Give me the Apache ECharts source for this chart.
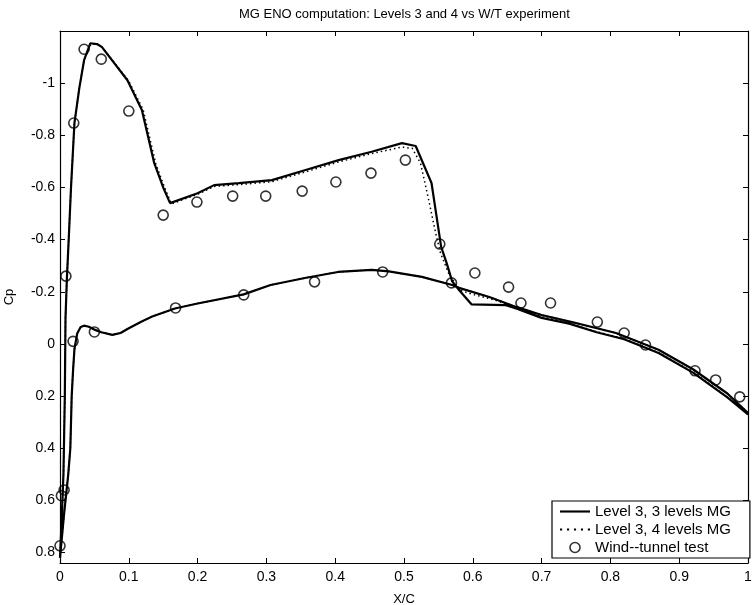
<!DOCTYPE html>
<html>
<head>
<meta charset="utf-8">
<script src="https://cdn.jsdelivr.net/npm/echarts@6/dist/echarts.min.js"></script>
<style>
html,body{margin:0;padding:0;background:#fff;}
#chart{width:752px;height:605px;}
</style>
</head>
<body>
<div id="chart"></div>
<script>
// ---- Data ----
const titleText = 'MG ENO computation: Levels 3 and 4 vs W/T experiment';
const seriesNames = ['Level 3, 3 levels MG', 'Level 3, 4 levels MG', 'Wind--tunnel test'];
const xTicks = [0, 0.1, 0.2, 0.3, 0.4, 0.5, 0.6, 0.7, 0.8, 0.9, 1];
const yTicks = [-1, -0.8, -0.6, -0.4, -0.2, 0, 0.2, 0.4, 0.6, 0.8];

// Level 3, 3 levels MG: upper surface (TE -> LE), then lower surface (LE -> TE)
const mg3X = [1.0, 0.97, 0.92, 0.87, 0.82, 0.78, 0.74, 0.70, 0.663, 0.648, 0.598, 0.58, 0.570, 0.562, 0.554, 0.540, 0.517, 0.497,
  0.453, 0.405, 0.357, 0.308, 0.26, 0.224, 0.200, 0.160, 0.150, 0.137, 0.119, 0.098, 0.061, 0.054, 0.044, 0.035, 0.028, 0.021,
  0.016, 0.013, 0.010, 0.008, 0.007, 0.005, 0.002, 0.0,
  0.006, 0.012, 0.015, 0.017, 0.019, 0.021, 0.025, 0.030, 0.035, 0.042, 0.050, 0.060, 0.076, 0.088, 0.10, 0.118, 0.134, 0.167, 0.20,
  0.267, 0.306, 0.356, 0.404, 0.453, 0.478, 0.526, 0.570, 0.58, 0.624, 0.663, 0.70, 0.744, 0.808, 0.87, 0.92, 0.97, 1.0];
const mg3Cp = [0.27, 0.205, 0.11, 0.035, -0.018, -0.045, -0.078, -0.100, -0.136, -0.149, -0.152, -0.207, -0.24, -0.31, -0.372, -0.617, -0.759, -0.77,
  -0.737, -0.705, -0.667, -0.628, -0.617, -0.609, -0.578, -0.54, -0.60, -0.693, -0.897, -1.011, -1.138, -1.15, -1.153, -1.088, -0.98, -0.847,
  -0.6, -0.42, -0.25, -0.1, 0.2, 0.5, 0.7, 0.82,
  0.65, 0.5, 0.4, 0.2, 0.1, 0.02, -0.04, -0.065, -0.07, -0.066, -0.055, -0.045, -0.035, -0.042, -0.06, -0.085, -0.105, -0.136, -0.155,
  -0.19, -0.226, -0.253, -0.276, -0.284, -0.278, -0.257, -0.226, -0.215, -0.18, -0.142, -0.111, -0.084, -0.042, 0.022, 0.097, 0.19, 0.265];

// Level 3, 4 levels MG
const mg4X = [1.0, 0.97, 0.92, 0.87, 0.82, 0.78, 0.74, 0.70, 0.663, 0.63, 0.60, 0.58, 0.565, 0.553, 0.546, 0.535, 0.524, 0.512, 0.497,
  0.453, 0.405, 0.357, 0.308, 0.26, 0.224, 0.200, 0.162, 0.152, 0.139, 0.121, 0.100, 0.062, 0.055, 0.045, 0.035, 0.028, 0.021,
  0.016, 0.013, 0.010, 0.008, 0.007, 0.005, 0.002, 0.0,
  0.006, 0.012, 0.015, 0.017, 0.019, 0.021, 0.025, 0.030, 0.035, 0.042, 0.050, 0.060, 0.076, 0.088, 0.10, 0.118, 0.134, 0.167, 0.20,
  0.267, 0.306, 0.356, 0.404, 0.453, 0.478, 0.526, 0.570, 0.58, 0.624, 0.663, 0.70, 0.744, 0.808, 0.87, 0.92, 0.97, 1.0];
const mg4Cp = [0.27, 0.203, 0.108, 0.033, -0.02, -0.047, -0.08, -0.104, -0.14, -0.17, -0.19, -0.207, -0.27, -0.349, -0.425, -0.563, -0.693, -0.75, -0.755,
  -0.73, -0.698, -0.66, -0.622, -0.611, -0.604, -0.574, -0.537, -0.60, -0.693, -0.897, -1.008, -1.136, -1.148, -1.15, -1.088, -0.98, -0.847,
  -0.6, -0.42, -0.25, -0.1, 0.2, 0.5, 0.7, 0.82,
  0.65, 0.5, 0.4, 0.2, 0.1, 0.02, -0.04, -0.065, -0.07, -0.066, -0.055, -0.045, -0.035, -0.042, -0.06, -0.085, -0.105, -0.136, -0.155,
  -0.19, -0.226, -0.253, -0.276, -0.284, -0.278, -0.257, -0.226, -0.215, -0.18, -0.142, -0.111, -0.084, -0.042, 0.022, 0.097, 0.19, 0.265];

// Wind-tunnel test
const wtX = [0.0, 0.002, 0.006, 0.0086, 0.019, 0.020, 0.035, 0.050, 0.060, 0.100, 0.150, 0.168, 0.199, 0.251, 0.267, 0.299,
  0.352, 0.370, 0.401, 0.452, 0.469, 0.502, 0.552, 0.569, 0.603, 0.652, 0.670, 0.713, 0.781, 0.820, 0.851, 0.923, 0.953, 0.988];
const wtCp = [0.774, 0.582, 0.56, -0.26, -0.01, -0.847, -1.13, -0.046, -1.092, -0.893, -0.494, -0.138, -0.544, -0.567, -0.188, -0.567,
  -0.586, -0.238, -0.621, -0.655, -0.276, -0.705, -0.383, -0.234, -0.272, -0.218, -0.157, -0.157, -0.084, -0.042, 0.004, 0.103, 0.138, 0.203];

const pairs = (xs, ys) => xs.map((x, i) => [x, ys[i]]);

const FONT = 'Liberation Sans, Arial, Helvetica, sans-serif';
const chart = echarts.init(document.getElementById('chart'), null, {renderer: 'canvas'});

const yFmt = v => {
  const r = Math.round(v * 10) / 10;
  if (Math.abs(v - r) > 1e-6) return '';
  return yTicks.some(t => Math.abs(t - r) < 1e-6) ? String(r) : '';
};
const xFmt = v => {
  const r = Math.round(v * 10) / 10;
  return xTicks.some(t => Math.abs(t - r) < 1e-6) ? String(r) : '';
};

const lineAx = {show: true, onZero: false, lineStyle: {color: '#000', width: 1.2}};
const tickStyle = {show: true, inside: true, length: 5, lineStyle: {color: '#000', width: 1}};

// legend icons (line samples drawn as paths)
const solidIcon = 'path://M0,0H28V2H0Z';
const dottedIcon = 'path://M0,0h2v2h-2zM6.5,0h2v2h-2zM13,0h2v2h-2zM19.5,0h2v2h-2zM26,0h2v2h-2z';

chart.setOption({
  animation: false,
  backgroundColor: '#fff',
  textStyle: {fontFamily: FONT},
  title: {
    text: titleText,
    left: 234, top: 3,
    textStyle: {fontFamily: FONT, fontSize: 13, fontWeight: 'normal', color: '#000'}
  },
  grid: {left: 60, right: 4, top: 31, bottom: 42, containLabel: false, outerBoundsMode: 'none'},
  legend: {
    orient: 'vertical',
    left: 552, top: 501,
    padding: [2, 19, 2, 8],
    itemGap: 1,
    itemWidth: 30, itemHeight: 10,
    backgroundColor: '#fff',
    borderColor: '#000', borderWidth: 1.2, borderRadius: 0,
    textStyle: {fontFamily: FONT, fontSize: 15, lineHeight: 17, color: '#000'},
    data: [
      {name: seriesNames[0], icon: solidIcon, itemStyle: {color: '#000', borderWidth: 0}},
      {name: seriesNames[1], icon: dottedIcon, itemStyle: {color: '#000', borderWidth: 0}},
      {name: seriesNames[2], icon: 'circle', itemStyle: {color: 'rgba(255,255,255,0)', borderColor: '#000', borderWidth: 1.6}}
    ]
  },
  xAxis: [{
    type: 'value', min: 0, max: 1, interval: 0.1, position: 'bottom',
    name: 'X/C', nameLocation: 'middle', nameGap: 30,
    nameTextStyle: {fontFamily: FONT, fontSize: 13, color: '#000'},
    axisLine: lineAx, axisTick: tickStyle,
    axisLabel: {color: '#000', fontFamily: FONT, fontSize: 14, margin: 7, formatter: xFmt},
    splitLine: {show: false}
  }, {
    type: 'value', min: 0, max: 1, interval: 0.1, position: 'top',
    axisLine: lineAx, axisTick: tickStyle,
    axisLabel: {show: false}, splitLine: {show: false}
  }],
  yAxis: [{
    type: 'value', inverse: true, min: -1.2, max: 0.84, interval: 0.2, position: 'left',
    name: 'Cp', nameLocation: 'middle', nameGap: 44,
    nameTextStyle: {fontFamily: FONT, fontSize: 13, color: '#000'},
    axisLine: lineAx, axisTick: tickStyle,
    axisLabel: {color: '#000', fontFamily: FONT, fontSize: 14, margin: 5, formatter: yFmt},
    splitLine: {show: false}
  }, {
    type: 'value', inverse: true, min: -1.2, max: 0.84, interval: 0.2, position: 'right',
    axisLine: lineAx, axisTick: tickStyle,
    axisLabel: {show: false}, splitLine: {show: false}
  }],
  series: [{
    name: seriesNames[0], type: 'line', xAxisIndex: 0, yAxisIndex: 0,
    data: pairs(mg3X, mg3Cp), symbol: 'none', smooth: false,
    lineStyle: {color: '#000', width: 2.2, type: 'solid'},
    itemStyle: {color: '#000'}, z: 3
  }, {
    name: seriesNames[1], type: 'line', xAxisIndex: 0, yAxisIndex: 0,
    data: pairs(mg4X, mg4Cp), symbol: 'none', smooth: false,
    lineStyle: {color: '#000', width: 1.5, type: [1.5, 3]},
    itemStyle: {color: '#000'}, z: 2
  }, {
    name: seriesNames[2], type: 'scatter', xAxisIndex: 0, yAxisIndex: 0,
    data: pairs(wtX, wtCp), symbol: 'circle', symbolSize: 10,
    itemStyle: {color: 'rgba(255,255,255,0)', borderColor: '#000', borderWidth: 1.6}, z: 4
  }]
});
</script>
</body>
</html>
